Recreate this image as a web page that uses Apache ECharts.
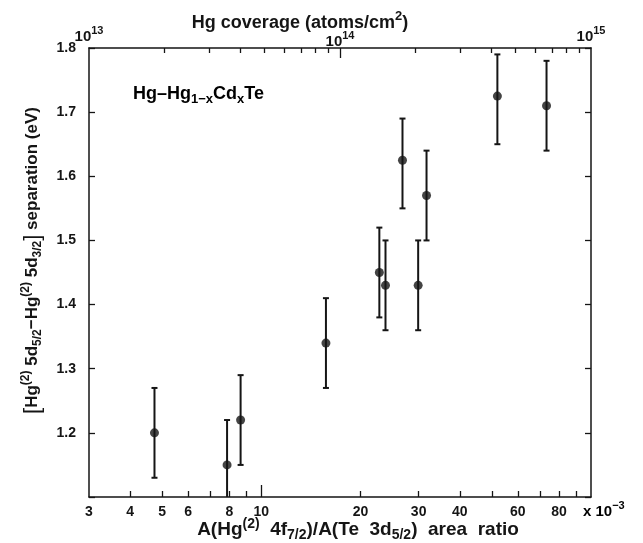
<!DOCTYPE html>
<html><head><meta charset="utf-8">
<script src="https://cdn.jsdelivr.net/npm/echarts@6/dist/echarts.min.js"></script>
<style>html,body{margin:0;padding:0;background:#fff}#c{width:643px;height:543px}</style>
</head><body><div id="c"></div>
<script>
// ---- data ----
const areaRatio   = [4.74, 7.87, 8.65, 15.7, 22.8, 23.8, 26.8, 29.9, 31.7, 52.0, 73.3]; // x 10^-3
const separation  = [1.20, 1.15, 1.22, 1.34, 1.45, 1.43, 1.625, 1.43, 1.57, 1.725, 1.71]; // eV
const errLow      = [1.13, 1.08, 1.15, 1.27, 1.38, 1.36, 1.55, 1.36, 1.50, 1.65, 1.64];
const errHigh     = [1.27, 1.22, 1.29, 1.41, 1.52, 1.50, 1.69, 1.50, 1.64, 1.79, 1.78];
const bottomLabelValues = [3, 4, 5, 6, 8, 10, 20, 30, 40, 60, 80];
const bottomMinorTicks  = [4, 5, 6, 7, 8, 9, 20, 30, 40, 50, 60, 70, 80, 90];
const bottomMajorTicks  = [10];
const topLabelValues    = [1e13, 1e14, 1e15];
const topMinorTicks     = [2e13,3e13,4e13,5e13,6e13,7e13,8e13,9e13,2e14,3e14,4e14,5e14,6e14,7e14,8e14,9e14];
const topMajorTicks     = [1e14];

const FONT = 'Liberation Sans';
const INK = '#151515';
const base = {fontFamily: FONT, fontWeight: 'bold', color: INK, verticalAlign: 'middle'};
const rich = (s, supPad, subPad) => {
  const r = Math.round(s * 0.72);
  supPad = supPad == null ? Math.round(s * 0.8) : supPad;
  subPad = subPad == null ? Math.round(s * 0.6) : subPad;
  return {
    b:   Object.assign({}, base, {fontSize: s, lineHeight: s + 2}),
    sup: Object.assign({}, base, {fontSize: r, lineHeight: r + 1, padding: [0, 0, supPad, 0]}),
    sub: Object.assign({}, base, {fontSize: r, lineHeight: r + 1, padding: [subPad, 0, 0, 0]}),
    e:   Object.assign({}, base, {fontSize: s, lineHeight: s + 2, padding: [0, 0, 10, 0]}),
    esup:Object.assign({}, base, {fontSize: r, lineHeight: r + 1, padding: [0, 0, supPad + 10, 0]}),
    br:  Object.assign({}, base, {fontSize: s + 5, fontWeight: 'normal', lineHeight: s + 6})
  };
};

const axisLine = {show: true, onZero: false, lineStyle: {color: INK, width: 1.5}};
const tickStyle = {color: INK, width: 1.3};
// tiny inward nudge of the last label so it passes the log-extent check
const topLabelCustom = topLabelValues.map((v, i, a) => (i === a.length - 1 ? v * (1 - 1e-9) : v));

const chart = echarts.init(document.getElementById('c'), null, {renderer: 'canvas'});
chart.setOption({
  animation: false,
  backgroundColor: '#fff',
  grid: {left: 89, right: 52, top: 48, bottom: 46, outerBoundsMode: 'none', containLabel: false},
  xAxis: [
    { // bottom: area ratio
      type: 'log', logBase: 10, min: 3, max: 100, position: 'bottom',
      axisLine: axisLine,
      axisTick: {show: true, inside: true, length: 6, customValues: bottomMinorTicks, lineStyle: tickStyle},
      axisLabel: {customValues: bottomLabelValues, margin: 8, fontSize: 14, fontFamily: FONT, fontWeight: 'bold', color: INK,
                  formatter: v => String(Math.round(v))},
      splitLine: {show: false},
      name: '{b|A(Hg}{sup|(2)}{b|  4f}{sub|7/2}{b|)/A(Te  3d}{sub|5/2}{b|)  area  ratio}',
      nameLocation: 'middle', nameGap: 22, nameMoveOverlap: false,
      nameTextStyle: {rich: rich(19, 10, 11), padding: [0, 0, 0, 36], verticalAlign: 'top'}
    },
    { // bottom: major tick
      type: 'log', logBase: 10, min: 3, max: 100, position: 'bottom',
      axisLine: {show: false},
      axisTick: {show: true, inside: true, length: 12, customValues: bottomMajorTicks, lineStyle: tickStyle},
      axisLabel: {show: false}, splitLine: {show: false}
    },
    { // top: Hg coverage
      type: 'log', logBase: 10, min: 1e13, max: 1e15, position: 'top',
      axisLine: axisLine,
      axisTick: {show: true, inside: true, length: 5, customValues: topMinorTicks, lineStyle: tickStyle},
      axisLabel: {customValues: topLabelCustom, margin: -2, showMinLabel: true, showMaxLabel: true,
                  formatter: v => {
                    const p = Math.round(Math.log10(v));
                    return p === 14 ? '{b|10}{sup|' + p + '}' : '{e|10}{esup|' + p + '}';
                  },
                  rich: rich(15)},
      splitLine: {show: false},
      name: '{b|Hg coverage (atoms/cm}{sup|2}{b|)}',
      nameLocation: 'middle', nameGap: 15, nameMoveOverlap: false,
      nameTextStyle: {rich: rich(18), padding: [0, 80, 0, 0], verticalAlign: 'bottom'}
    },
    { // top: major tick
      type: 'log', logBase: 10, min: 1e13, max: 1e15, position: 'top',
      axisLine: {show: false},
      axisTick: {show: true, inside: true, length: 10, customValues: topMajorTicks, lineStyle: tickStyle},
      axisLabel: {show: false}, splitLine: {show: false}
    }
  ],
  yAxis: [
    {
      type: 'value', min: 1.1, max: 1.8, interval: 0.1, position: 'left',
      axisLine: axisLine,
      axisTick: {show: true, inside: true, length: 6, lineStyle: tickStyle},
      axisLabel: {margin: 13, fontSize: 14, fontFamily: FONT, fontWeight: 'bold', color: INK,
                  formatter: v => (Math.abs(v - 1.1) < 1e-6 ? '' : v.toFixed(1))},
      splitLine: {show: false},
      name: '{br|[}{b|Hg}{sup|(2)}{b| 5d}{sub|5/2}{b|\u2212Hg}{sup|(2)}{b| 5d}{sub|3/2}{br|]}{b| separation (eV)}',
      nameLocation: 'middle', nameGap: 45, nameRotate: 90, nameMoveOverlap: false,
      nameTextStyle: {rich: rich(17), padding: [0, 0, 0, 24]}
    },
    {
      type: 'value', min: 1.1, max: 1.8, interval: 0.1, position: 'right',
      axisLine: axisLine,
      axisTick: {show: true, inside: true, length: 6, lineStyle: tickStyle},
      axisLabel: {show: false}, splitLine: {show: false}
    }
  ],
  graphic: [
    {type: 'text', left: 133, top: 82,
     style: {text: '{b|Hg\u2013Hg}{sub|1\u2212x}{b|Cd}{sub|x}{b|Te}', rich: rich(18)}},
    {type: 'text', left: 583, top: 500,
     style: {text: '{b|x 10}{sup|\u22123}', rich: rich(15)}}
  ],
  series: [
    {
      type: 'custom', xAxisIndex: 0, yAxisIndex: 0, clip: true,
      data: areaRatio.map((x, i) => [x, errLow[i], errHigh[i]]),
      renderItem: function (params, api) {
        const x = api.value(0);
        const p1 = api.coord([x, api.value(1)]);
        const p2 = api.coord([x, api.value(2)]);
        const w = 3;
        const st = {stroke: INK, lineWidth: 2};
        return {type: 'group', children: [
          {type: 'line', shape: {x1: p1[0], y1: p1[1], x2: p2[0], y2: p2[1]}, style: st},
          {type: 'line', shape: {x1: p1[0] - w, y1: p1[1], x2: p1[0] + w, y2: p1[1]}, style: st},
          {type: 'line', shape: {x1: p2[0] - w, y1: p2[1], x2: p2[0] + w, y2: p2[1]}, style: st}
        ]};
      },
      z: 2
    },
    {
      type: 'scatter', xAxisIndex: 0, yAxisIndex: 0,
      data: areaRatio.map((x, i) => [x, separation[i]]),
      symbol: 'circle', symbolSize: 9,
      itemStyle: {color: INK},
      z: 3
    }
  ]
});
</script>
</body></html>
